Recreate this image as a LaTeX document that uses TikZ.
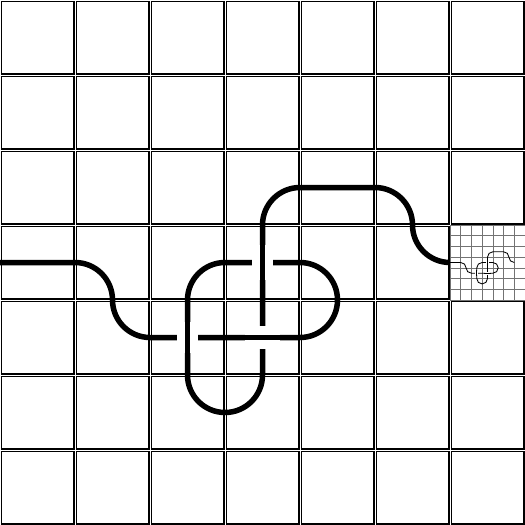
\documentclass[tikz,border=0pt]{standalone}
\begin{document}
\begin{tikzpicture}[x=1pt,y=-1pt]
\useasboundingbox (0,0) rectangle (525,525);
\fill[white] (0,0) rectangle (525,525);
\foreach \u/\lw/\gl/\gg/\gc/\sx/\sy/\skip in {1/5.5/1.8/1.4/black/0/0/1, 0.142857/0.85/0.55/0/black!55/450/225/0}{
  \begin{scope}[shift={(\sx,\sy)}, x=\u pt, y=-\u pt]
    \fill[white] (0,0) rectangle (525,525);
    % grid cells
    \foreach \i in {0,...,6}{
      \foreach \j in {0,...,6}{
        \pgfmathtruncatemacro\isinset{and(\i==6,\j==3)*\skip}
        \ifnum\isinset=0
          \draw[draw=\gc, line width=\gl pt]
            ({\i*75+\gg},{\j*75+\gg}) rectangle ({\i*75+75-\gg},{\j*75+75-\gg});
        \fi
      }
    }
    % knot
    \draw[black, line width=\lw pt, rounded corners=37.5*\u pt]
      (0,262.5) -- (112.5,262.5) -- (112.5,337.5) -- (337.5,337.5)
      -- (337.5,262.5) -- (187.5,262.5) -- (187.5,412.5) -- (262.5,412.5)
      -- (262.5,187.5) -- (412.5,187.5) -- (412.5,262.5) -- (450,262.5);
    % over-crossings
    \draw[white, line width=21*\u pt] (187.5,322) -- (187.5,353);
    \draw[black, line width=\lw pt] (187.5,318) -- (187.5,357);
    \draw[white, line width=23*\u pt] (245,337.5) -- (280,337.5);
    \draw[black, line width=\lw pt] (241,337.5) -- (284,337.5);
    \draw[white, line width=21*\u pt] (262.5,245) -- (262.5,280);
    \draw[black, line width=\lw pt] (262.5,241) -- (262.5,284);
  \end{scope}
}
\end{tikzpicture}
\end{document}
